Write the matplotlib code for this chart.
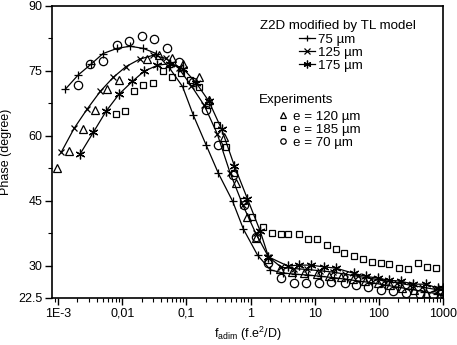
import numpy as np
import matplotlib
matplotlib.use('Agg')
import matplotlib.pyplot as plt
from matplotlib.ticker import FixedLocator, FixedFormatter, LogLocator, NullFormatter

plt.rcParams['font.family'] = ['Liberation Sans', 'DejaVu Sans']

# model curves, log10(f_adim) and phase (deg)
logf_m75 = [-2.89, -2.69, -2.49, -2.30, -2.08, -1.88, -1.67, -1.47, -1.27, -1.06, -0.89, -0.69,
            -0.50, -0.28, -0.11, 0.11, 0.31, 0.50, 0.70, 0.90, 1.10, 1.30, 1.50, 1.70, 1.90,
            2.10, 2.30, 2.50, 2.70, 2.90, 3.00]
ph_m75 = [70.7, 74.0, 76.5, 79.0, 80.2, 80.7, 80.2, 79.0, 75.8, 71.4, 64.7, 57.8,
          51.3, 44.9, 38.4, 32.4, 29.0, 28.3, 28.0, 27.8, 27.5, 27.2, 26.8, 26.4, 26.0,
          25.5, 25.0, 24.5, 24.0, 23.5, 23.2]

logf_m125 = [-2.95, -2.75, -2.55, -2.34, -2.14, -1.94, -1.73, -1.52, -1.32, -1.12, -0.92, -0.72,
             -0.52, -0.32, -0.12, 0.08, 0.28, 0.48, 0.68, 0.88, 1.08, 1.28, 1.48, 1.68, 1.88,
             2.08, 2.28, 2.48, 2.68, 2.88, 3.00]
ph_m125 = [56.2, 61.7, 66.1, 70.3, 73.5, 76.0, 77.7, 78.6, 77.9, 75.6, 71.5, 67.0,
           60.5, 51.5, 44.0, 37.5, 32.0, 29.6, 29.3, 29.1, 28.8, 28.5, 28.0, 27.5, 27.0,
           26.5, 26.0, 25.5, 25.0, 24.5, 24.2]

logf_m175 = [-2.66, -2.45, -2.25, -2.05, -1.84, -1.66, -1.45, -1.25, -1.05, -0.85, -0.65, -0.45,
             -0.25, -0.05, 0.15, 0.28, 0.58, 0.75, 0.94, 1.14, 1.33, 1.61, 1.80, 1.98, 2.16,
             2.34, 2.53, 2.73, 2.92, 3.00]
ph_m175 = [55.7, 60.8, 65.7, 69.6, 72.6, 74.9, 76.3, 76.7, 75.5, 72.3, 68.0, 61.5,
           53.0, 45.5, 38.0, 32.0, 29.9, 30.1, 30.1, 29.7, 29.4, 28.2, 27.5, 27.1, 26.6,
           26.4, 25.7, 25.7, 24.8, 24.8]

# experiments
logf_e120 = [-3.02, -2.83, -2.61, -2.42, -2.23, -2.05, -1.62, -1.42, -1.23, -1.05, -0.81, -0.64,
             -0.42, -0.23, -0.05, 0.08, 0.27, 0.46, 0.65, 0.84, 1.03, 1.22, 1.41, 1.60, 1.79,
             1.98, 2.17, 2.36, 2.55, 2.74, 2.93]
ph_e120 = [52.5, 56.4, 61.5, 65.9, 70.7, 73.0, 77.7, 78.6, 77.9, 76.7, 73.7, 68.2,
           59.7, 49.0, 41.2, 36.3, 31.5, 29.3, 28.6, 28.3, 28.0, 27.7, 27.3, 26.9, 26.5,
           26.0, 25.5, 24.9, 24.3, 23.6, 22.8]

logf_e185 = [-2.09, -1.95, -1.81, -1.67, -1.52, -1.37, -1.23, -1.08, -0.95, -0.80, -0.66, -0.52,
             -0.38, -0.25, -0.11, 0.03, 0.19, 0.33, 0.47, 0.59, 0.75, 0.89, 1.03, 1.19, 1.33,
             1.45, 1.61, 1.75, 1.89, 2.03, 2.16, 2.31, 2.45, 2.61, 2.75, 2.89]
ph_e185 = [65.0, 65.7, 70.3, 71.7, 72.3, 74.9, 73.7, 74.4, 72.8, 71.2, 67.0, 62.4,
           57.3, 51.3, 44.9, 41.2, 38.9, 37.5, 37.3, 37.3, 37.3, 36.1, 36.1, 34.7, 33.8,
           32.9, 32.2, 31.5, 30.8, 30.6, 30.3, 29.4, 29.2, 30.6, 29.7, 29.4]

logf_e70 = [-2.69, -2.50, -2.30, -2.08, -1.89, -1.69, -1.50, -1.30, -1.11, -0.90, -0.69, -0.50,
            -0.28, -0.10, 0.08, 0.27, 0.47, 0.67, 0.86, 1.06, 1.25, 1.47, 1.64, 1.83, 2.03,
            2.22, 2.42, 2.64, 2.84]
ph_e70 = [71.7, 76.5, 77.2, 81.1, 82.0, 83.0, 82.3, 80.2, 77.0, 72.5, 65.9, 57.8,
          50.9, 44.0, 36.6, 30.5, 27.1, 25.9, 25.9, 25.9, 26.1, 25.9, 25.4, 25.0, 24.3,
          24.1, 23.6, 23.4, 23.2]

xticks = [1e-3, 1e-2, 1e-1, 1, 10, 100, 1000]
xticklabels = ['1E-3', '0,01', '0,1', '1', '10', '100', '1000']
yticks = [22.5, 30, 45, 60, 75, 90]
yticklabels = ['22.5', '30', '45', '60', '75', '90']

fig = plt.figure(figsize=(4.57, 3.45), dpi=100)
ax = fig.add_axes([52/457, 1 - 298/345, 391/457, 292/345])

asterisk = (6, 2, 0)
l1, = ax.plot(10**np.array(logf_m75), ph_m75, '-', color='k', lw=0.9, marker='+', ms=6, mew=0.9)
l2, = ax.plot(10**np.array(logf_m125), ph_m125, '-', color='k', lw=0.9, marker='x', ms=5, mew=0.9)
l3, = ax.plot(10**np.array(logf_m175), ph_m175, '-', color='k', lw=0.9, marker=asterisk, ms=7, mew=0.9)

p1, = ax.plot(10**np.array(logf_e120), ph_e120, ls='none', marker='^', ms=6, mfc='none', mec='k', mew=0.9)
p2, = ax.plot(10**np.array(logf_e185), ph_e185, ls='none', marker='s', ms=5, mfc='none', mec='k', mew=0.9)
p3, = ax.plot(10**np.array(logf_e70), ph_e70, ls='none', marker='o', ms=6, mfc='none', mec='k', mew=0.9)

ax.set_xscale('log')
ax.set_xlim(8.05e-4, 1000)
ax.set_ylim(22.5, 90)
ax.xaxis.set_major_locator(FixedLocator(xticks))
ax.xaxis.set_major_formatter(FixedFormatter(xticklabels))
ax.xaxis.set_minor_locator(LogLocator(base=10, subs=np.arange(2, 10), numticks=20))
ax.xaxis.set_minor_formatter(NullFormatter())
ax.yaxis.set_major_locator(FixedLocator(yticks))
ax.yaxis.set_major_formatter(FixedFormatter(yticklabels))
ax.yaxis.set_minor_locator(FixedLocator([37.5, 52.5, 67.5, 82.5]))
ax.tick_params(which='major', direction='out', length=5, width=1, labelsize=9, pad=2)
ax.tick_params(which='minor', direction='out', length=3, width=0.8)
for s in ax.spines.values():
    s.set_linewidth(1.2)

ax.set_ylabel('Phase (degree)', fontsize=9, labelpad=4)
ax.set_xlabel(r'f$_{\mathregular{adim}}$ (f.e$^{\mathregular{2}}$/D)', fontsize=9, labelpad=4)

fs_leg = 9.6
ax.text(0.731, 0.932, 'Z2D modified by TL model', transform=ax.transAxes,
        ha='center', va='center', fontsize=fs_leg)
leg1 = ax.legend([l1, l2, l3], ['75 µm', '125 µm', '175 µm'], loc='upper left',
                 bbox_to_anchor=(0.632, 0.905), frameon=False, fontsize=fs_leg, borderpad=0,
                 borderaxespad=0, handlelength=1.2, handletextpad=0.2, labelspacing=0.05,
                 numpoints=1, markerscale=0.8)
ax.add_artist(leg1)
ax.text(0.529, 0.678, 'Experiments', transform=ax.transAxes, ha='left', va='center', fontsize=fs_leg)
ax.legend([p1, p2, p3], ['e = 120 µm', 'e = 185 µm', 'e = 70 µm'], loc='upper left',
          bbox_to_anchor=(0.573, 0.643), frameon=False, fontsize=fs_leg, borderpad=0,
          borderaxespad=0, handlelength=1.0, handletextpad=0.25, labelspacing=0.05,
          numpoints=1, markerscale=0.65)

fig.savefig('out.png', dpi=100)
